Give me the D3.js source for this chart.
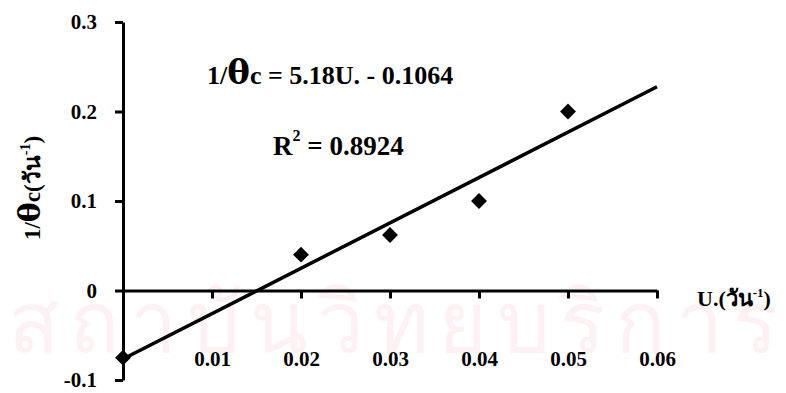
<!DOCTYPE html>
<html>
<head>
<meta charset="utf-8">
<script src="https://cdn.jsdelivr.net/npm/d3@7"></script>
<style>
  body { margin: 0; background: #fff; }
  svg { display: block; }
  text { font-family: "Liberation Serif", "Times New Roman", serif; fill: #000; }
</style>
</head>
<body>
<svg width="786" height="393"></svg>
<script>
// growth rate U. (1/day) against 1/theta c (1/day)
var uValues = [0, 0.02, 0.03, 0.04, 0.05];
var invTheta = [-0.075, 0.04, 0.062, 0.1, 0.2];
var xTicks = [0.01, 0.02, 0.03, 0.04, 0.05, 0.06];
var yTicks = [-0.1, 0, 0.1, 0.2, 0.3];
var equationText = "= 5.18U. - 0.1064";
var r2Text = "= 0.8924";

var svg = d3.select('svg');
var width = 786, height = 393;
var margin = {top: 22, right: 129, bottom: 13, left: 123};

var x = d3.scaleLinear().domain([0, 0.06]).range([margin.left, width - margin.right]);
var y = d3.scaleLinear().domain([-0.1, 0.3]).range([height - margin.bottom, margin.top]);

// faint watermark from the scan
svg.append("text")
  .attr("x", width / 2).attr("y", 352)
  .attr("text-anchor", "middle")
  .style("font-family", "'Noto Sans', 'DejaVu Sans', sans-serif")
  .style("font-size", "84px")
  .style("fill", "#fdf1f4")
  .attr("textLength", 770)
  .text("สถาบันวิทยบริการ");

// y axis (left)
var yAxis = svg.append("g")
  .attr("transform", "translate(" + x(0) + ",0)")
  .call(d3.axisLeft(y).tickValues(yTicks).tickSize(8).tickSizeOuter(0)
    .tickFormat(function(d) { return d === 0 ? "0" : d3.format(".1f")(d).replace("−", "-"); }));
yAxis.select(".domain").attr("stroke-width", 3);
yAxis.selectAll(".tick line").attr("stroke-width", 3);
yAxis.selectAll(".tick text")
  .attr("x", -26)
  .style("font-size", "21px").style("font-weight", "bold");

// x axis drawn at y = 0, labels set low
var xAxis = svg.append("g")
  .attr("transform", "translate(0," + y(0) + ")")
  .call(d3.axisBottom(x).tickValues(xTicks).tickSize(8).tickSizeOuter(0).tickFormat(d3.format(".2f")));
xAxis.select(".domain").attr("stroke-width", 3);
xAxis.selectAll(".tick line").attr("stroke-width", 3);
xAxis.selectAll(".tick text")
  .attr("y", y(-0.075) - y(0) + 2)
  .attr("dy", "0.32em")
  .style("font-size", "21px").style("font-weight", "bold");

// least-squares trend line through the points
var mx = d3.mean(uValues), my = d3.mean(invTheta);
var sxy = d3.sum(uValues, function(u, i) { return (u - mx) * (invTheta[i] - my); });
var sxx = d3.sum(uValues, function(u) { return (u - mx) * (u - mx); });
var slope = sxy / sxx, intercept = my - slope * mx;
var trend = [0, 0.06].map(function(u) { return [u, intercept + slope * u]; });

svg.append("path")
  .datum(trend)
  .attr("fill", "none")
  .attr("stroke", "#000")
  .attr("stroke-width", 3.5)
  .attr("d", d3.line().x(function(d) { return x(d[0]); }).y(function(d) { return y(d[1]); }));

// diamond markers
var pts = uValues.map(function(u, i) { return {u: u, v: invTheta[i]}; });
svg.selectAll(".pt")
  .data(pts)
  .enter().append("path")
  .attr("class", "pt")
  .attr("transform", function(d) { return "translate(" + x(d.u) + "," + y(d.v) + ")"; })
  .attr("d", d3.symbol().type(d3.symbolDiamond2).size(160))
  .attr("fill", "#000");

// equation and R squared
var eq = svg.append("text")
  .attr("x", 207).attr("y", 84)
  .style("font-size", "26px").style("font-weight", "bold");
eq.append("tspan").text("1/");
eq.append("tspan").style("font-size", "34px").style("font-family", "'DejaVu Serif', serif").text("θ");
eq.append("tspan").text("c " + equationText);

var r2 = svg.append("text")
  .attr("x", 273).attr("y", 155)
  .style("font-size", "27px").style("font-weight", "bold");
r2.append("tspan").text("R");
r2.append("tspan").attr("dy", -14).style("font-size", "16px").text("2");
r2.append("tspan").attr("dy", 14).text(" " + r2Text);

// y axis title, rotated
var yt = svg.append("text")
  .attr("transform", "translate(40,188) rotate(-90)")
  .attr("text-anchor", "middle")
  .style("font-size", "23px").style("font-weight", "bold");
yt.append("tspan").text("1/");
yt.append("tspan").style("font-size", "30px").style("font-family", "'DejaVu Serif', serif").text("θ");
yt.append("tspan").text("c(วัน");
yt.append("tspan").attr("dy", -10).style("font-size", "14px").text("-1");
yt.append("tspan").attr("dy", 10).text(")");

// x axis title
var xt = svg.append("text")
  .attr("x", 697).attr("y", 306)
  .style("font-size", "22px").style("font-weight", "bold");
xt.append("tspan").text("U.(วัน");
xt.append("tspan").attr("dy", -9).style("font-size", "13px").text("-1");
xt.append("tspan").attr("dy", 9).text(")");
</script>
</body>
</html>
